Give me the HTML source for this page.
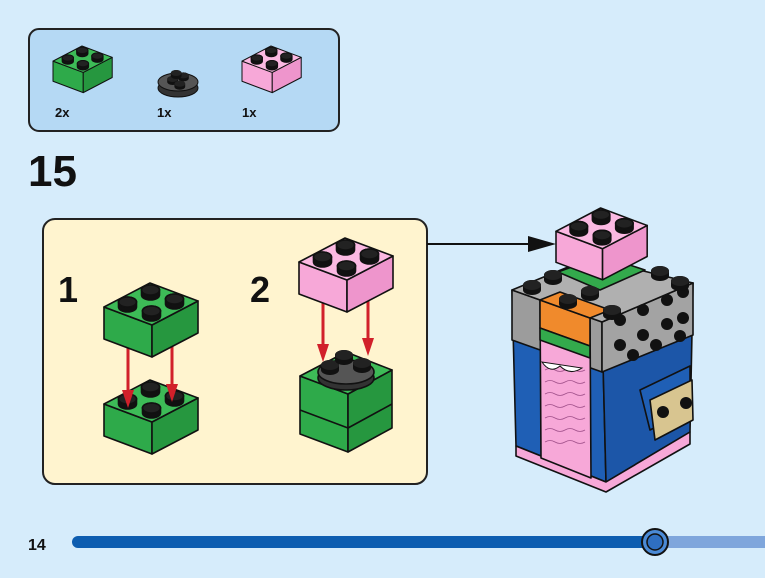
<!DOCTYPE html>
<html><head><meta charset="utf-8"><style>
html,body{margin:0;padding:0;width:765px;height:578px;overflow:hidden;background:#d6ecfb;font-family:"Liberation Sans",sans-serif}
</style></head><body>
<svg width="765" height="578" viewBox="0 0 765 578" xmlns="http://www.w3.org/2000/svg">
<defs>
<g id="stud"><path d="M-9,0 v-5 a9,5 0 0 1 18,0 v5 a9,5 0 0 1 -18,0z" fill="#111"/><ellipse cx="0" cy="-5" rx="9" ry="5" fill="#222"/></g>
<g id="gbrick" stroke="#111" stroke-width="1.6" stroke-linejoin="round">
<path d="M0,24 L48,42 L48,74 L0,56Z" fill="#2eaa4a"/>
<path d="M48,42 L94,18 L94,50 L48,74Z" fill="#26973f"/>
<path d="M0,24 L46,0 L94,18 L48,42Z" fill="#3dbb57"/>
<use href="#stud" x="23.5" y="24"/><use href="#stud" x="46.5" y="12"/><use href="#stud" x="47.5" y="33"/><use href="#stud" x="70.5" y="21"/>
</g>
<g id="pbrick" stroke="#111" stroke-width="1.6" stroke-linejoin="round">
<path d="M0,24 L48,42 L48,74 L0,56Z" fill="#f7a8d8"/>
<path d="M48,42 L94,18 L94,50 L48,74Z" fill="#ee95cc"/>
<path d="M0,24 L46,0 L94,18 L48,42Z" fill="#fbb9e2"/>
<use href="#stud" x="23.5" y="24"/><use href="#stud" x="46.5" y="12"/><use href="#stud" x="47.5" y="33"/><use href="#stud" x="70.5" y="21"/>
</g>
</defs>

<rect x="29" y="29" width="310" height="102" rx="10" fill="#b5d9f4" stroke="#222" stroke-width="2"/>
<use href="#gbrick" transform="translate(53,46) scale(0.63)"/>
<use href="#pbrick" transform="translate(242,46) scale(0.63)"/>
<g transform="translate(178,82)">
<ellipse cx="0" cy="6" rx="20" ry="9" fill="#333" stroke="#111"/>
<ellipse cx="0" cy="0" rx="20" ry="9" fill="#555" stroke="#111"/>
<use href="#stud" x="-9" y="0" transform="scale(0.6)"/><use href="#stud" x="9" y="-6" transform="scale(0.6)"/><use href="#stud" x="-3" y="-10" transform="scale(0.6)"/><use href="#stud" x="3" y="8" transform="scale(0.6)"/>
</g>
<text x="55" y="117" font-size="13" font-weight="bold" fill="#111">2x</text>
<text x="157" y="117" font-size="13" font-weight="bold" fill="#111">1x</text>
<text x="242" y="117" font-size="13" font-weight="bold" fill="#111">1x</text>

<text x="28" y="186" font-size="44" font-weight="bold" fill="#111">15</text>

<rect x="43" y="219" width="384" height="265" rx="12" fill="#fff4cf" stroke="#222" stroke-width="2"/>
<text x="58" y="302" font-size="36" font-weight="bold" fill="#111">1</text>
<text x="250" y="302" font-size="36" font-weight="bold" fill="#111">2</text>

<use href="#gbrick" transform="translate(104,380)"/>
<g fill="#d1202a" stroke="#d1202a" stroke-width="3">
<line x1="128" y1="345" x2="128" y2="392"/>
<line x1="172" y1="340" x2="172" y2="386"/>
</g>
<g fill="#d1202a">
<path d="M122,390 L134,390 L128,408Z"/>
<path d="M166,384 L178,384 L172,402Z"/>
</g>
<use href="#gbrick" transform="translate(104,283)"/>

<g stroke="#111" stroke-width="1.6" stroke-linejoin="round">
<path d="M300,376 L348,394 L348,452 L300,434Z" fill="#2eaa4a"/>
<path d="M348,394 L392,370 L392,428 L348,452Z" fill="#26973f"/>
<path d="M300,410 L348,428 M348,428 L392,404" fill="none"/>
<path d="M300,376 L346,352 L392,370 L348,394Z" fill="#3dbb57"/>
<ellipse cx="346" cy="378" rx="28" ry="12" fill="#333"/>
<ellipse cx="346" cy="372" rx="28" ry="12" fill="#555"/>
</g>
<use href="#stud" x="330" y="370"/><use href="#stud" x="362" y="368"/><use href="#stud" x="344" y="360"/>
<g stroke="#d1202a" stroke-width="3">
<line x1="323" y1="300" x2="323" y2="346"/>
<line x1="368" y1="296" x2="368" y2="340"/>
</g>
<g fill="#d1202a">
<path d="M317,344 L329,344 L323,362Z"/>
<path d="M362,338 L374,338 L368,356Z"/>
</g>
<use href="#pbrick" transform="translate(299,238)"/>

<line x1="427" y1="244" x2="530" y2="244" stroke="#111" stroke-width="2"/>
<path d="M528,236 L556,244 L528,252Z" fill="#111"/>

<g stroke="#111" stroke-width="1.6" stroke-linejoin="round">
<path d="M512,290 L602,322 L606,482 L516,446Z" fill="#1f5fb5"/>
<path d="M602,322 L693,283 L690,432 L606,482Z" fill="#1c56a8"/>
<path d="M512,290 L602,322 L602,372 L512,340Z" fill="#9c9c9c"/>
<path d="M602,322 L693,283 L693,335 L602,372Z" fill="#a3a3a3"/>
<path d="M512,290 L590,258 L693,283 L602,322Z" fill="#b0b0b0"/>
<path d="M516,446 L606,482 L690,432 L690,444 L606,492 L516,456Z" fill="#f7a8d8"/>
<path d="M540,300 L590,318 L591,478 L541,458Z" fill="#f7a8d8"/>
<path d="M540,300 L590,318 L590,346 L540,328Z" fill="#f08a2c"/>
<path d="M540,328 L590,346 L590,358 L540,340Z" fill="#33aa4c"/>
<path d="M540,300 L560,292 L610,310 L590,318Z" fill="#f08a2c"/>
<path d="M558,272 L602,256 L645,270 L600,290Z" fill="#33aa4c"/>
<path d="M640,390 L690,366 L690,410 L650,430Z" fill="#1f5fb5"/>
<path d="M650,400 L692,380 L693,420 L655,440Z" fill="#d8c590"/>
</g>
<g stroke="#a0508a" stroke-width="0.8" fill="none">
<path d="M545,370 q5,-3 10,0 t10,0 t10,0 t10,0"/><path d="M545,382 q5,-3 10,0 t10,0 t10,0 t10,0"/><path d="M545,394 q5,-3 10,0 t10,0 t10,0 t10,0"/><path d="M545,406 q5,-3 10,0 t10,0 t10,0 t10,0"/><path d="M545,418 q5,-3 10,0 t10,0 t10,0 t10,0"/><path d="M545,430 q5,-3 10,0 t10,0 t10,0 t10,0"/><path d="M545,442 q5,-3 10,0 t10,0 t10,0 t10,0"/>
</g>
<path d="M542,362 q8,12 18,4 q10,10 22,2 z" fill="#fff" stroke="#111"/>
<g fill="#111">
<circle cx="620" cy="320" r="6"/><circle cx="643" cy="310" r="6"/><circle cx="667" cy="300" r="6"/><circle cx="683" cy="292" r="6"/>
<circle cx="620" cy="345" r="6"/><circle cx="643" cy="335" r="6"/><circle cx="667" cy="324" r="6"/><circle cx="683" cy="318" r="6"/>
<circle cx="633" cy="355" r="6"/><circle cx="656" cy="345" r="6"/><circle cx="680" cy="336" r="6"/>
<circle cx="663" cy="412" r="6"/><circle cx="686" cy="403" r="6"/>
</g>
<use href="#stud" x="532" y="290"/><use href="#stud" x="553" y="280"/><use href="#stud" x="660" y="276"/><use href="#stud" x="680" y="286"/><use href="#stud" x="612" y="315"/><use href="#stud" x="568" y="304"/><use href="#stud" x="590" y="296"/>
<use href="#pbrick" transform="translate(556,208) scale(0.97)"/>

<text x="28" y="550" font-size="16" font-weight="bold" fill="#111">14</text>
<rect x="655" y="536" width="110" height="12" fill="#7fa6dc"/>
<rect x="72" y="536" width="583" height="12" rx="6" fill="#0d5db0"/>
<circle cx="655" cy="542" r="13" fill="#4b8ad6" stroke="#111" stroke-width="2"/>
<circle cx="655" cy="542" r="8" fill="#2f6fc2" stroke="#111" stroke-width="1.5"/>
</svg>
</body></html>
